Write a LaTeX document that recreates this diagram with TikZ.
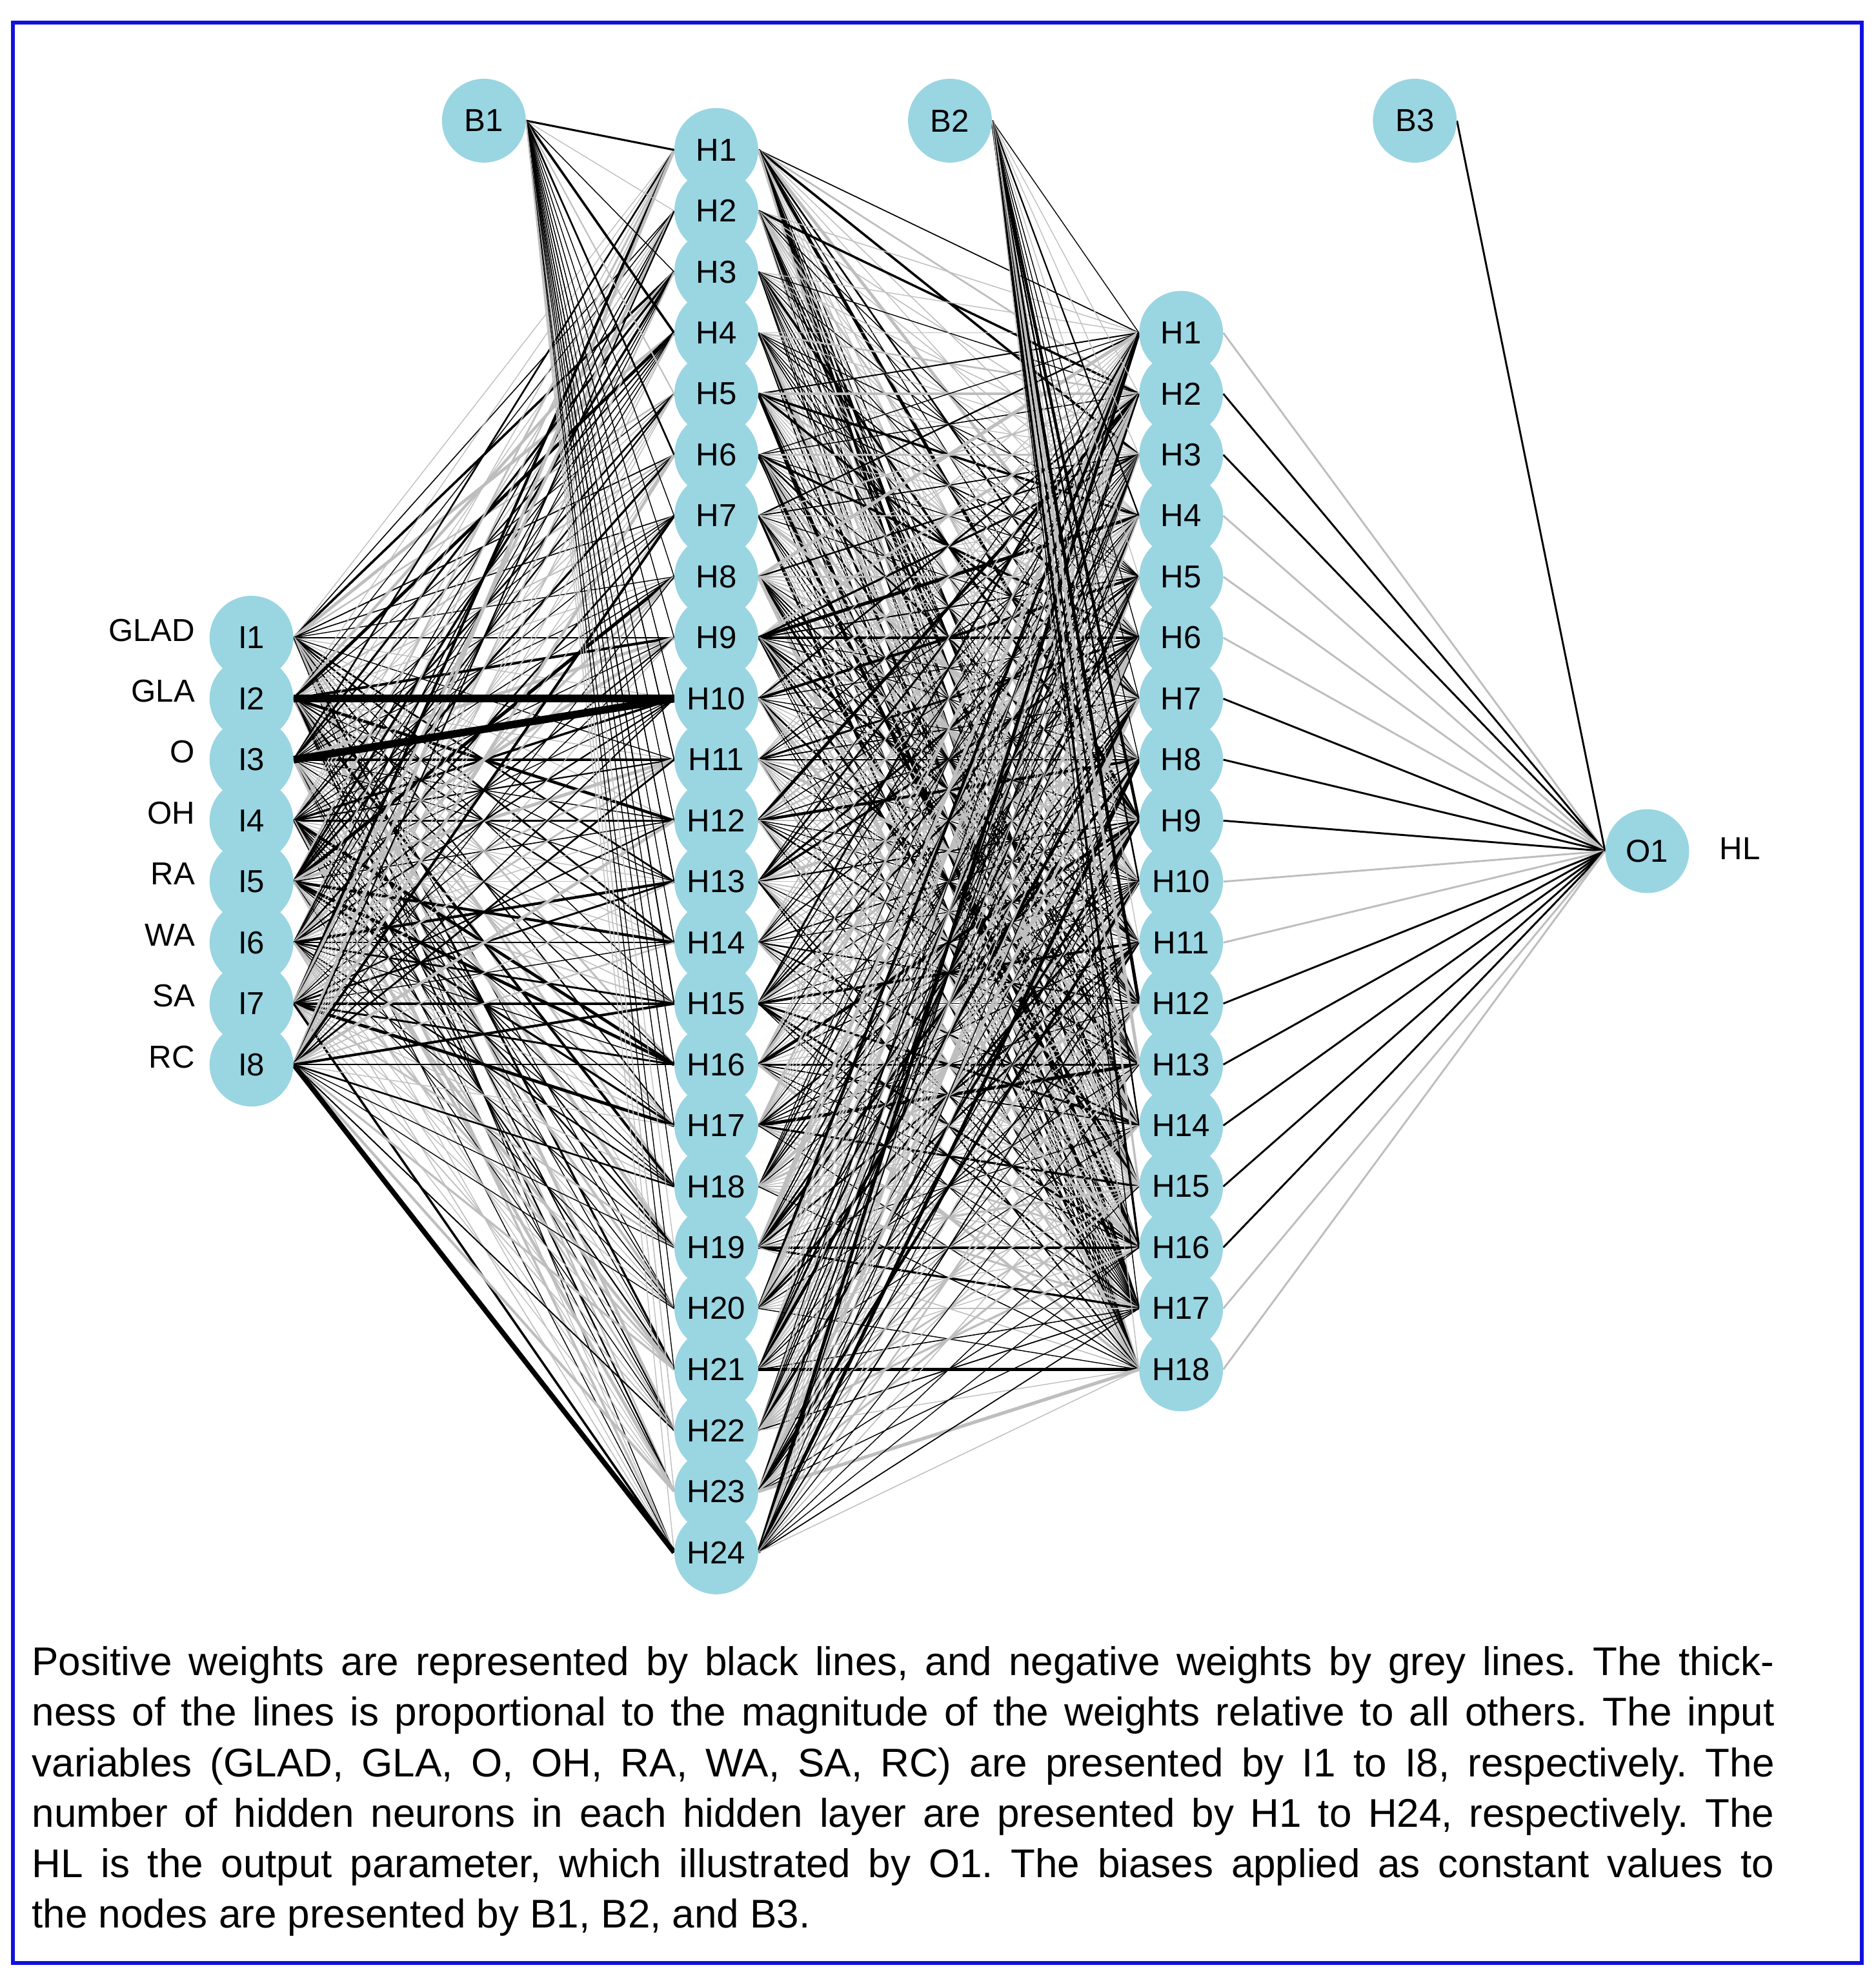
\documentclass[tikz,border=0pt]{standalone}
\usepackage{fontspec}
\setmainfont{Liberation Sans}
\pgfdeclarelayer{bg}
\pgfsetlayers{bg,main}
\definecolor{nodecol}{HTML}{9AD5E2}
\definecolor{lgrey}{HTML}{BEBEBE}
\definecolor{frameblue}{HTML}{1010E0}
\frenchspacing
\begin{document}
\begin{tikzpicture}[x=1pt,y=-1pt,
 neuron/.style={circle,fill=nodecol,minimum size=66pt,inner sep=0pt,font=\fontsize{25}{25}\selectfont},
 lab/.style={font=\fontsize{25}{25}\selectfont,anchor=east},
 pos/.style={black},neg/.style={lgrey}]
\useasboundingbox (0,0) rectangle (1477,1561);
\draw[frameblue,line width=3pt] (10,18) rectangle (1466,1545);
% nodes
\foreach \i in {1,...,8}{\node[neuron] (i\i) at (198,{502+48*(\i-1)}) {I\i};}
\foreach \i in {1,...,24}{\node[neuron] (ha\i) at (564,{118+48*(\i-1)}) {H\i};}
\foreach \i in {1,...,18}{\node[neuron] (hb\i) at (930,{262+48*(\i-1)}) {H\i};}
\node[neuron] (b1) at (381,95) {B1};
\node[neuron] (b2) at (748,95) {B2};
\node[neuron] (b3) at (1114,95) {B3};
\node[neuron] (o1) at (1297,670) {O1};
\node[font=\fontsize{25}{25}\selectfont] (hl) at (1370,668) {HL};
\foreach \n/\t in {1/GLAD,2/GLA,3/O,4/OH,5/RA,6/WA,7/SA,8/RC}{\node[lab] (l\n) at (157,{496+48*(\n-1)}) {\t};}
% edges
\begin{pgfonlayer}{bg}
\pgfmathsetseed{7}
\foreach \s in {i1,i2,i3,i4,i5,i6,i7,i8,b1}{\foreach \t in {1,...,24}{
 \pgfmathsetmacro\c{rnd}\pgfmathsetmacro\w{0.7+2.0*rnd^4}
 \ifdim\c pt<0.5pt \def\col{black}\else\def\col{lgrey}\fi
 \draw[line width=\w pt,\col] (\s.east) -- (ha\t.west);}}
\foreach \s in {1,...,24}{\foreach \t in {1,...,18}{
 \pgfmathsetmacro\c{rnd}\pgfmathsetmacro\w{0.7+2.0*rnd^4}
 \ifdim\c pt<0.5pt \def\col{black}\else\def\col{lgrey}\fi
 \draw[line width=\w pt,\col] (ha\s.east) -- (hb\t.west);}}
\foreach \t in {1,...,18}{
 \pgfmathsetmacro\c{rnd}\pgfmathsetmacro\w{0.7+2.0*rnd^4}
 \ifdim\c pt<0.5pt \def\col{black}\else\def\col{lgrey}\fi
 \draw[line width=\w pt,\col] (b2.east) -- (hb\t.west);}
\draw[line width=6pt,black] (i2.east) -- (ha10.west);
\draw[line width=6pt,black] (i3.east) -- (ha10.west);
\draw[line width=4pt,black] (i8.east) -- (ha24.west);
\foreach \t/\col in {1/lgrey,2/black,3/black,4/lgrey,5/lgrey,6/lgrey,7/black,8/black,9/black,10/lgrey,11/lgrey,12/black,13/black,14/black,15/black,16/black,17/lgrey,18/lgrey}{
 \draw[line width=1.5pt,\col] (hb\t.east) -- (o1.west);}
\draw[line width=1.5pt,black] (b3.east) -- (o1.west);
\end{pgfonlayer}
% caption
\node[anchor=north west,inner sep=0pt,text width=1372pt,align=justify,font=\fontsize{31.5}{39.7}\selectfont] (cap) at (25,1296) {Positive weights are represented by black lines, and negative weights by grey lines. The thick-\linebreak ness of the lines is proportional to the magnitude of the weights relative to all others. The input\linebreak variables (GLAD, GLA, O, OH, RA, WA, SA, RC) are presented by I1 to I8, respectively. The\linebreak number of hidden neurons in each hidden layer are presented by H1 to H24, respectively. The\linebreak HL is the output parameter, which illustrated by O1. The biases applied as constant values to\linebreak the nodes are presented by B1, B2, and B3.\par};
\end{tikzpicture}
\end{document}
